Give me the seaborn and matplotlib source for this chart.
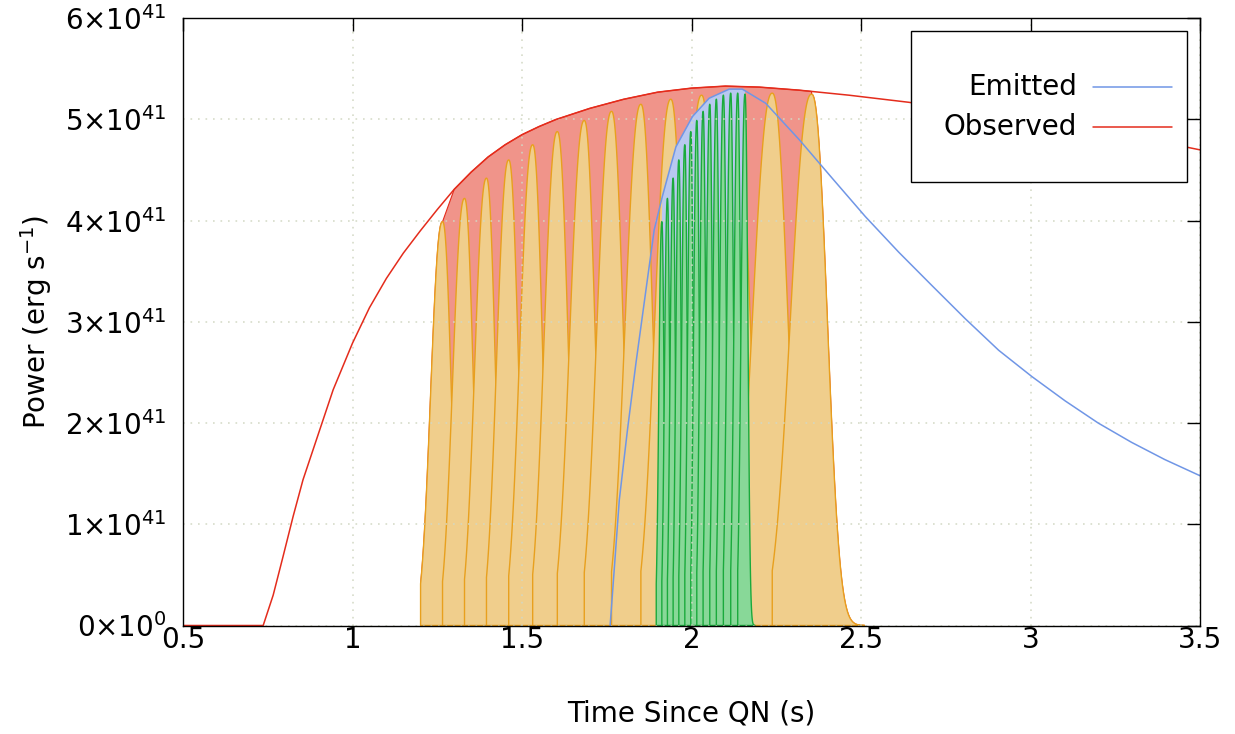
import numpy as np
import matplotlib
matplotlib.use("Agg")
import matplotlib.pyplot as plt
from matplotlib.patches import Rectangle
from matplotlib.lines import Line2D
from matplotlib.ticker import FixedLocator, FuncFormatter
import pandas as pd
import seaborn as sns

# ---- light curves (time in s, power in units of 1e41 erg/s) ----
obs_time = [0.50, 0.7365, 0.766, 0.795, 0.825, 0.854, 0.894, 0.943, 1.000, 1.050,
            1.100, 1.150, 1.200, 1.250, 1.300, 1.350, 1.400, 1.450, 1.500, 1.550,
            1.600, 1.700, 1.800, 1.900, 2.000, 2.100, 2.200, 2.317, 2.465, 2.641,
            2.800, 3.000, 3.200, 3.456, 3.500]
obs_power = [0.0, 0.0, 0.30, 0.68, 1.08, 1.44, 1.84, 2.33, 2.79, 3.14,
             3.43, 3.68, 3.90, 4.11, 4.31, 4.48, 4.63, 4.75, 4.85, 4.93,
             5.00, 5.11, 5.20, 5.27, 5.31, 5.33, 5.32, 5.29, 5.24, 5.17,
             5.09, 4.98, 4.87, 4.73, 4.70]

emit_time = [1.760, 1.787, 1.811, 1.836, 1.865, 1.890, 1.914, 1.954, 2.003, 2.052,
             2.111, 2.150, 2.219, 2.318, 2.415, 2.513, 2.611, 2.709, 2.808, 2.906,
             3.004, 3.102, 3.200, 3.298, 3.396, 3.500]
emit_power = [0.0, 1.24, 1.93, 2.59, 3.30, 3.91, 4.24, 4.73, 5.03, 5.21,
              5.30, 5.30, 5.16, 4.80, 4.42, 4.04, 3.69, 3.36, 3.03, 2.72,
              2.46, 2.22, 2.00, 1.81, 1.64, 1.48]

# ---- individual pulses: peak times (emitted / observed) and peak power ----
emit_pulse_time = [1.9125, 1.9290, 1.9458, 1.9626, 1.9803, 1.9979, 2.0156,
                   2.0342, 2.0539, 2.0733, 2.0940, 2.1157, 2.1363, 2.1578]
obs_pulse_time = [1.2656, 1.3304, 1.3952, 1.4608, 1.5315, 1.6042, 1.6837,
                  1.7641, 1.8507, 1.9390, 2.0297, 2.1298, 2.2382, 2.3542]
pulse_peak = [3.99, 4.22, 4.42, 4.60, 4.75, 4.88, 4.99,
              5.08, 5.15, 5.20, 5.24, 5.26, 5.26, 5.25]

legend_labels = ["Emitted", "Observed"]
xtick_values = [0.5, 1.0, 1.5, 2.0, 2.5, 3.0, 3.5]
xtick_labels = ["0.5", "1", "1.5", "2", "2.5", "3", "3.5"]
ytick_values = [0, 1, 2, 3, 4, 5, 6]

SCALE = 1e41

# ---- styling ----
RED, RED_FILL = "#e42c1c", "#f0948a"
ORANGE, ORANGE_FILL = "#e8a01e", "#f0ce8c"
BLUE, BLUE_FILL = "#7096e6", "#b8c8f0"
GREEN, GREEN_FILL = "#1aaa3c", "#88d898"
GRID = "#d2d8c4"

sns.set_theme(style="white")
plt.rcParams["font.family"] = ["DejaVu Sans"]
plt.rcParams["mathtext.fontset"] = "dejavusans"

fig = plt.figure(figsize=(12.35, 7.34), dpi=100)
ax = fig.add_axes([183 / 1235, 1 - 625.5 / 734, (1200 - 183) / 1235, (625.5 - 18.3) / 734])

# pulse profile: steep truncated rise, smooth fall
W_RISE, W_FALL, SHAPE, FALL_EXT = 0.70, 0.52, 2.3, 1.35


def pulse_rise(tc, h, p_before, n=120):
    u = np.linspace(-1.0, 0.0, n)
    return tc + u * p_before, h * np.exp(-(np.abs(u) / W_RISE) ** SHAPE)


def pulse_fall(tc, h, p_after, n=120):
    u = np.linspace(0.0, FALL_EXT, n)
    return tc + u * p_after, h * np.exp(-(u / W_FALL) ** SHAPE)


def pulse_train(times, heights):
    shapes = []
    for i, (tc, h) in enumerate(zip(times, heights)):
        p_before = times[i + 1] - tc if i == 0 else tc - times[i - 1]
        p_after = tc - times[i - 1] if i == len(times) - 1 else times[i + 1] - tc
        tr, yr = pulse_rise(tc, h, p_before)
        tf, yf = pulse_fall(tc, h, p_after)
        t = np.concatenate([[tr[0]], tr, tf[1:], [tf[-1]]])
        y = np.concatenate([[0.0], yr, yf[1:], [0.0]])
        shapes.append((t, y))
    return shapes


def envelope_fill(curve_t, curve_y, times, heights):
    """Region under a light curve spanning the pulse train."""
    t_arr, y_arr = np.asarray(curve_t), np.asarray(curve_y)
    tr, yr = pulse_rise(times[0], heights[0], times[1] - times[0])
    tf, yf = pulse_fall(times[-1], heights[-1], times[-1] - times[-2])
    inside = (t_arr > times[0]) & (t_arr < times[-1])
    y_end = np.interp(times[-1], t_arr, y_arr)
    xs = np.concatenate([[tr[0]], tr, t_arr[inside], [times[-1]], tf, [tf[-1]]])
    ys = np.concatenate([[0.0], yr, y_arr[inside], [y_end], yf, [0.0]])
    return xs, ys * SCALE


# observed envelope and its pulses
xs, ys = envelope_fill(obs_time, obs_power, obs_pulse_time, pulse_peak)
ax.fill(xs, ys, facecolor=RED_FILL, edgecolor=RED, linewidth=0.8, zorder=1.0)
for i, (t, y) in enumerate(pulse_train(obs_pulse_time, pulse_peak)):
    ax.fill(t, y * SCALE, facecolor=ORANGE_FILL, edgecolor=ORANGE,
            linewidth=1.0, zorder=1.1 + 0.001 * i)

# emitted envelope and its pulses
xs, ys = envelope_fill(emit_time, emit_power, emit_pulse_time, pulse_peak)
ax.fill(xs, ys, facecolor=BLUE_FILL, edgecolor="none", zorder=1.5)
for i, (t, y) in enumerate(pulse_train(emit_pulse_time, pulse_peak)):
    ax.fill(t, y * SCALE, facecolor=GREEN_FILL, edgecolor=GREEN,
            linewidth=1.0, zorder=1.6 + 0.001 * i)

# light curves
obs_df = pd.DataFrame({"time": obs_time, "power": np.array(obs_power) * SCALE})
emit_df = pd.DataFrame({"time": emit_time, "power": np.array(emit_power) * SCALE})
sns.lineplot(data=emit_df, x="time", y="power", color=BLUE, linewidth=1.1,
             sort=False, estimator=None, legend=False, ax=ax, zorder=3)
sns.lineplot(data=obs_df, x="time", y="power", color=RED, linewidth=1.1,
             sort=False, estimator=None, legend=False, ax=ax, zorder=3.1)

# axes
ax.set_xlim(0.5, 3.5)
ax.set_ylim(0, 6 * SCALE)
ax.xaxis.set_major_locator(FixedLocator(xtick_values))
ax.set_xticklabels(xtick_labels)
ax.yaxis.set_major_locator(FixedLocator([v * SCALE for v in ytick_values]))


def power_label(v, pos):
    n = int(round(v / SCALE))
    return r"$0{\times}10^{0}$" if n == 0 else r"$%d{\times}10^{41}$" % n


ax.yaxis.set_major_formatter(FuncFormatter(power_label))
ax.tick_params(direction="in", length=9.5, width=1.0, color="black",
               top=True, right=True, labelsize=20, labelcolor="black")
ax.tick_params(axis="x", pad=0)
ax.tick_params(axis="y", pad=12)
for side in ax.spines.values():
    side.set_visible(True)
    side.set_color("black")
    side.set_linewidth(1.0)
    side.set_zorder(4)

ax.set_axisbelow(False)
ax.grid(True, color=GRID, linestyle=(0, (1, 3.5)), linewidth=1.2, alpha=0.9)

ax.set_xlabel("Time Since QN (s)", fontsize=20, color="black", labelpad=33)
ax.set_ylabel(r"Power (erg s$^{-1}$)", fontsize=20, color="black", labelpad=8)

# key box
ax.add_patch(Rectangle((0.7158, 0.7304), 0.2714, 0.2487, transform=ax.transAxes,
                       facecolor="white", edgecolor="black", linewidth=1.0, zorder=6))
for label, color, yk in zip(legend_labels, [BLUE, RED], [0.8874, 0.8205]):
    ax.text(0.879, yk, label, transform=ax.transAxes, ha="right", va="center",
            fontsize=20, color="black", zorder=7)
    ax.add_line(Line2D([0.8948, 0.9725], [yk, yk], transform=ax.transAxes,
                       color=color, linewidth=1.1, zorder=7))

fig.savefig("out.png", dpi=100)
